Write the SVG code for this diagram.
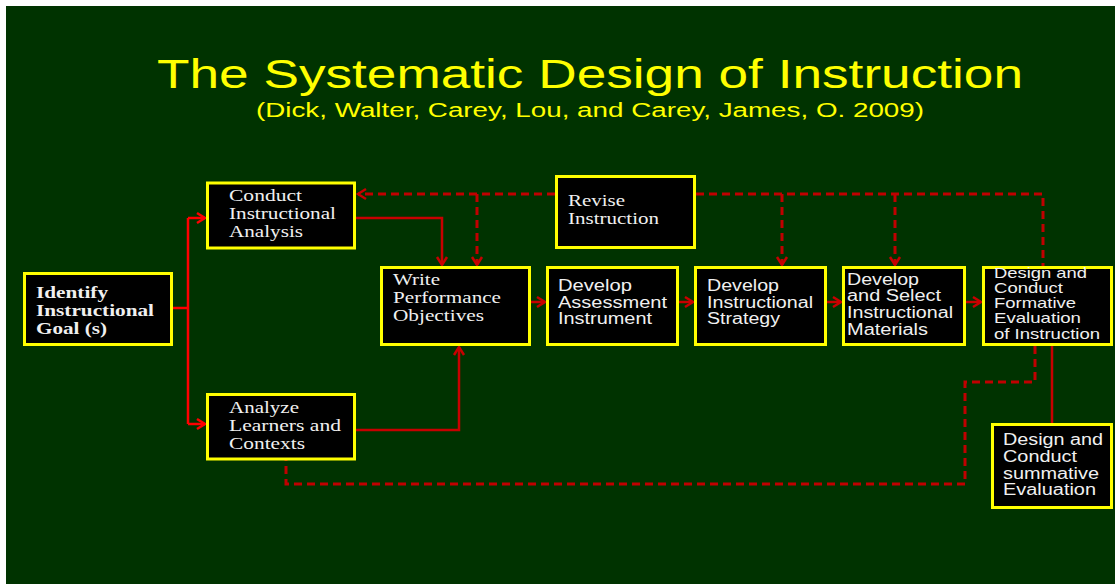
<svg xmlns="http://www.w3.org/2000/svg" width="1115" height="584" viewBox="0 0 1115 584">
  <style>
    .box { fill: #000000; stroke: #ffff00; stroke-width: 3; }
    .serif { font-family: "Liberation Serif", "Times New Roman", serif; font-size: 16.5px; fill: #f0f0f0; }
    .sans { font-family: "Liberation Sans", Arial, sans-serif; font-size: 16px; fill: #f0f0f0; }
    .small { font-size: 15px; }
    .bold { font-weight: bold; }
    .title { font-family: "Liberation Sans", Arial, sans-serif; fill: #ffff00; }
    .solid { fill: none; stroke: #c80000; stroke-width: 2.5; }
    .fork { fill: none; stroke: #ff0000; stroke-width: 2.5; }
    .dash { fill: none; stroke: #c00000; stroke-width: 3; stroke-dasharray: 8 5; }
  </style>
  <defs>
    <marker id="arrowDark" markerUnits="userSpaceOnUse" markerWidth="12" markerHeight="14" refX="9" refY="6" orient="auto" viewBox="0 0 12 12">
      <path d="M1,1 L9,6 L1,11" fill="none" stroke="#c80000" stroke-width="2.5"/>
    </marker>
    <marker id="arrowBright" markerUnits="userSpaceOnUse" markerWidth="12" markerHeight="14" refX="9" refY="6" orient="auto" viewBox="0 0 12 12">
      <path d="M1,1 L9,6 L1,11" fill="none" stroke="#ff0000" stroke-width="2.5"/>
    </marker>
  </defs>

  <!-- page background -->
  <rect x="0" y="0" width="1115" height="584" fill="#ffffff"/>
  <rect x="6" y="6" width="1109" height="578" fill="#003300"/>

  <!-- heading -->
  <text class="title" x="590" y="88" font-size="40" text-anchor="middle" textLength="866" lengthAdjust="spacingAndGlyphs">The Systematic Design of Instruction</text>
  <text class="title" x="590" y="117" font-size="20" text-anchor="middle" textLength="668" lengthAdjust="spacingAndGlyphs">(Dick, Walter, Carey, Lou, and Carey, James, O. 2009)</text>

  <!-- connectors -->
  <g id="connectors">
    <path class="fork" d="M173,308 H188 M188,218 V424"/>
    <path class="fork" d="M188,218 H205" marker-end="url(#arrowBright)"/>
    <path class="fork" d="M188,424 H205" marker-end="url(#arrowBright)"/>

    <path class="solid" d="M356,218 H442 V265" marker-end="url(#arrowDark)"/>
    <path class="solid" d="M356,430 H459 V347" marker-end="url(#arrowDark)"/>
    <path class="solid" d="M531,302 H545" marker-end="url(#arrowDark)"/>
    <path class="solid" d="M679,302 H693" marker-end="url(#arrowDark)"/>
    <path class="solid" d="M827,302 H841" marker-end="url(#arrowDark)"/>
    <path class="solid" d="M966,302 H981" marker-end="url(#arrowDark)"/>
    <path class="solid" d="M1052,346 V423"/>

    <path class="dash" d="M555,194 H358" marker-end="url(#arrowDark)"/>
    <path class="dash" d="M477,194 V265" marker-end="url(#arrowDark)"/>
    <path class="dash" d="M696,194 H1043 V266"/>
    <path class="dash" d="M782,194 V265" marker-end="url(#arrowDark)"/>
    <path class="dash" d="M895,194 V265" marker-end="url(#arrowDark)"/>
    <path class="dash" d="M1035,346 V382 H965 V484 H286 V460"/>
  </g>

  <g id="identify-goal">
    <rect class="box" x="24.5" y="273.5" width="147" height="71"/>
    <text class="serif bold"><tspan x="36" y="298" textLength="72" lengthAdjust="spacingAndGlyphs">Identify</tspan><tspan x="36" y="316" textLength="118" lengthAdjust="spacingAndGlyphs">Instructional</tspan><tspan x="36" y="334" textLength="71" lengthAdjust="spacingAndGlyphs">Goal (s)</tspan></text>
  </g>

  <g id="conduct-analysis">
    <rect class="box" x="207.5" y="183" width="147" height="65"/>
    <text class="serif"><tspan x="229" y="201" textLength="73" lengthAdjust="spacingAndGlyphs">Conduct</tspan><tspan x="229" y="219" textLength="107" lengthAdjust="spacingAndGlyphs">Instructional</tspan><tspan x="229" y="237" textLength="74" lengthAdjust="spacingAndGlyphs">Analysis</tspan></text>
  </g>

  <g id="analyze-learners">
    <rect class="box" x="207.5" y="394.5" width="147" height="64.5"/>
    <text class="serif"><tspan x="229" y="412.5" textLength="70" lengthAdjust="spacingAndGlyphs">Analyze</tspan><tspan x="229" y="430.5" textLength="112" lengthAdjust="spacingAndGlyphs">Learners and</tspan><tspan x="229" y="448.5" textLength="76" lengthAdjust="spacingAndGlyphs">Contexts</tspan></text>
  </g>

  <g id="write-objectives">
    <rect class="box" x="381.5" y="267.5" width="148" height="77"/>
    <text class="serif"><tspan x="393" y="285" textLength="47" lengthAdjust="spacingAndGlyphs">Write</tspan><tspan x="393" y="303" textLength="108" lengthAdjust="spacingAndGlyphs">Performance</tspan><tspan x="393" y="321" textLength="91" lengthAdjust="spacingAndGlyphs">Objectives</tspan></text>
  </g>

  <g id="revise-instruction">
    <rect class="box" x="556.5" y="176.5" width="138" height="71"/>
    <text class="serif"><tspan x="568" y="206" textLength="57" lengthAdjust="spacingAndGlyphs">Revise</tspan><tspan x="568" y="224" textLength="91" lengthAdjust="spacingAndGlyphs">Instruction</tspan></text>
  </g>

  <g id="assessment-instrument">
    <rect class="box" x="547.5" y="267.5" width="130" height="77"/>
    <text class="sans"><tspan x="558" y="291" textLength="74" lengthAdjust="spacingAndGlyphs">Develop</tspan><tspan x="558" y="307.5" textLength="109" lengthAdjust="spacingAndGlyphs">Assessment</tspan><tspan x="558" y="324" textLength="94" lengthAdjust="spacingAndGlyphs">Instrument</tspan></text>
  </g>

  <g id="instructional-strategy">
    <rect class="box" x="695.5" y="267.5" width="130" height="77"/>
    <text class="sans"><tspan x="707" y="291" textLength="72" lengthAdjust="spacingAndGlyphs">Develop</tspan><tspan x="707" y="307.5" textLength="106" lengthAdjust="spacingAndGlyphs">Instructional</tspan><tspan x="707" y="324" textLength="73" lengthAdjust="spacingAndGlyphs">Strategy</tspan></text>
  </g>

  <g id="instructional-materials">
    <rect class="box" x="843.5" y="267.5" width="121" height="77"/>
    <text class="sans"><tspan x="847" y="284.5" textLength="72" lengthAdjust="spacingAndGlyphs">Develop</tspan><tspan x="847" y="301" textLength="94" lengthAdjust="spacingAndGlyphs">and Select</tspan><tspan x="847" y="318" textLength="106" lengthAdjust="spacingAndGlyphs">Instructional</tspan><tspan x="847" y="335" textLength="81" lengthAdjust="spacingAndGlyphs">Materials</tspan></text>
  </g>

  <g id="formative-evaluation">
    <rect class="box" x="983.5" y="267.5" width="128" height="77"/>
    <text class="sans small"><tspan x="994" y="277.5" textLength="93" lengthAdjust="spacingAndGlyphs">Design and</tspan><tspan x="994" y="292.8" textLength="69" lengthAdjust="spacingAndGlyphs">Conduct</tspan><tspan x="994" y="308" textLength="82" lengthAdjust="spacingAndGlyphs">Formative</tspan><tspan x="994" y="323.3" textLength="87" lengthAdjust="spacingAndGlyphs">Evaluation</tspan><tspan x="994" y="338.5" textLength="106" lengthAdjust="spacingAndGlyphs">of Instruction</tspan></text>
  </g>

  <g id="summative-evaluation">
    <rect class="box" x="992.5" y="424.5" width="119" height="83"/>
    <text class="sans"><tspan x="1003" y="445" textLength="100" lengthAdjust="spacingAndGlyphs">Design and</tspan><tspan x="1003" y="462" textLength="74" lengthAdjust="spacingAndGlyphs">Conduct</tspan><tspan x="1003" y="479" textLength="96" lengthAdjust="spacingAndGlyphs">summative</tspan><tspan x="1003" y="495" textLength="93" lengthAdjust="spacingAndGlyphs">Evaluation</tspan></text>
  </g>
</svg>
